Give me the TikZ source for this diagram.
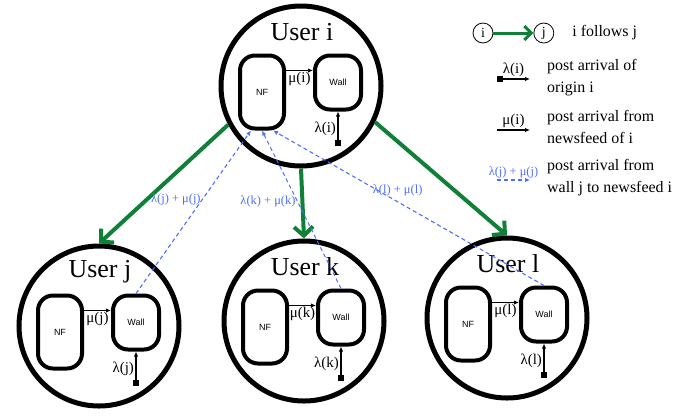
\documentclass[tikz,border=0pt]{standalone}
\usepackage{fontspec}
\setmainfont{Liberation Serif}
\newfontfamily\boxfont{Liberation Sans}
\usetikzlibrary{calc,positioning,arrows.meta}
\definecolor{followgreen}{RGB}{16,128,56}
\definecolor{postblue}{RGB}{80,110,250}
\tikzstyle{user}=[circle,draw,line width=5bp,minimum size=160bp,inner sep=0]
\tikzstyle{usertitle}=[font=\fontsize{26}{28}\selectfont,inner sep=0]
\tikzstyle{nfbox}=[draw,rounded corners=15bp,line width=4bp,minimum width=44bp,minimum height=73bp,inner sep=0,font=\boxfont\fontsize{9}{10}\selectfont]
\tikzstyle{wallbox}=[nfbox,minimum width=46bp,minimum height=54bp]
\tikzstyle{follows}=[draw=followgreen,line width=4bp,-{Straight Barb[length=9bp,width=19bp]}]
\tikzstyle{newsfeed}=[draw,line width=1.2bp,-{Latex[length=5bp,width=4.5bp]}]
\tikzstyle{arrival}=[newsfeed,{Square[length=6bp,width=6bp]}-{Latex[length=5bp,width=4.5bp]}]
\tikzstyle{repost}=[draw=postblue,line width=1.1bp,dash pattern=on 4bp off 3bp,-{Latex[length=5bp,width=4.5bp]}]
\tikzstyle{ratelabel}=[font=\fontsize{15}{16}\selectfont,inner sep=1.5bp]
\tikzstyle{repostlabel}=[text=postblue,font=\fontsize{12.5}{13}\selectfont,inner sep=1.5bp]
\tikzstyle{legcircle}=[circle,draw,line width=0.8bp,minimum size=20bp,inner sep=0,font=\fontsize{14}{15}\selectfont]
\tikzstyle{legtext}=[font=\fontsize{16}{22}\selectfont,inner sep=0,align=left,anchor=west]
\newcommand{\drawuser}[2]{
	\node[user] (u#1) at #2 {};
	\node[usertitle] (t#1) at ($(u#1)+(1,-54)$) {User #1};
	\node[nfbox] (nf#1) at ($(u#1)+(-39,6)$) {NF};
	\node[wallbox,below right=0bp and 27bp of nf#1.north east] (w#1) {Wall};
	\coordinate[below=34bp of w#1.south] (s#1);
	\draw[newsfeed] ($(nf#1.north east)+(0,17)$) -- ($(w#1.north west)+(0,17)$) node[ratelabel,midway,below] {μ(#1)};
	\draw[arrival] (s#1) -- (w#1.south) node[ratelabel,midway,left] {λ(#1)};
}

\begin{document}
\begin{tikzpicture}[x=1bp,y=-1bp]
\useasboundingbox (0,0) rectangle (699,417);

\drawuser{i}{(301,86)}
\drawuser{j}{(99,326)}
\drawuser{k}{(304,321)}
\drawuser{l}{(507,318)}

\draw[follows] (ui.208) -- (uj.north);
\draw[follows] (ui.south) -- (uk.north);
\draw[follows] (ui.334) -- (ul.north);

\draw[repost] (wj.north) -- (nfi.254) node[repostlabel,pos=0.58,left] {λ(j) + μ(j)};
\draw[repost] (wk.north) -- (nfi.south) node[repostlabel,pos=0.55,left] {λ(k) + μ(k)};
\draw[repost] (wl.north) -- (nfi.286) node[repostlabel,pos=0.54,above=4bp] {λ(l) + μ(l)};

\node[legcircle] (li) at (483,33) {i};
\node[legcircle,right=40bp of li] (lj) {j};
\draw[follows,line width=3bp,-{Straight Barb[length=7bp,width=14bp]}] (li) -- (lj);
\node[legtext,right=18bp of lj] (lf) {i follows j};

\coordinate (a1) at (497,79);
\coordinate[right=33bp of a1] (b1);
\draw[arrival] (a1) -- (b1) node[ratelabel,midway,above] {λ(i)};
\node[legtext] (d1) at (547,78) {post arrival of\\origin i};

\coordinate (a2) at (497,130);
\coordinate[right=33bp of a2] (b2);
\draw[newsfeed] (a2) -- (b2) node[ratelabel,midway,above] {μ(i)};
\node[legtext] (d2) at (547,127) {post arrival from\\newsfeed of i};

\coordinate (a3) at (497,180);
\coordinate[right=33bp of a3] (b3);
\draw[repost] (a3) -- (b3) node[repostlabel,midway,above] {λ(j) + μ(j)};
\node[legtext] (d3) at (547,178) {post arrival from\\wall j to newsfeed i};

\end{tikzpicture}
\end{document}
